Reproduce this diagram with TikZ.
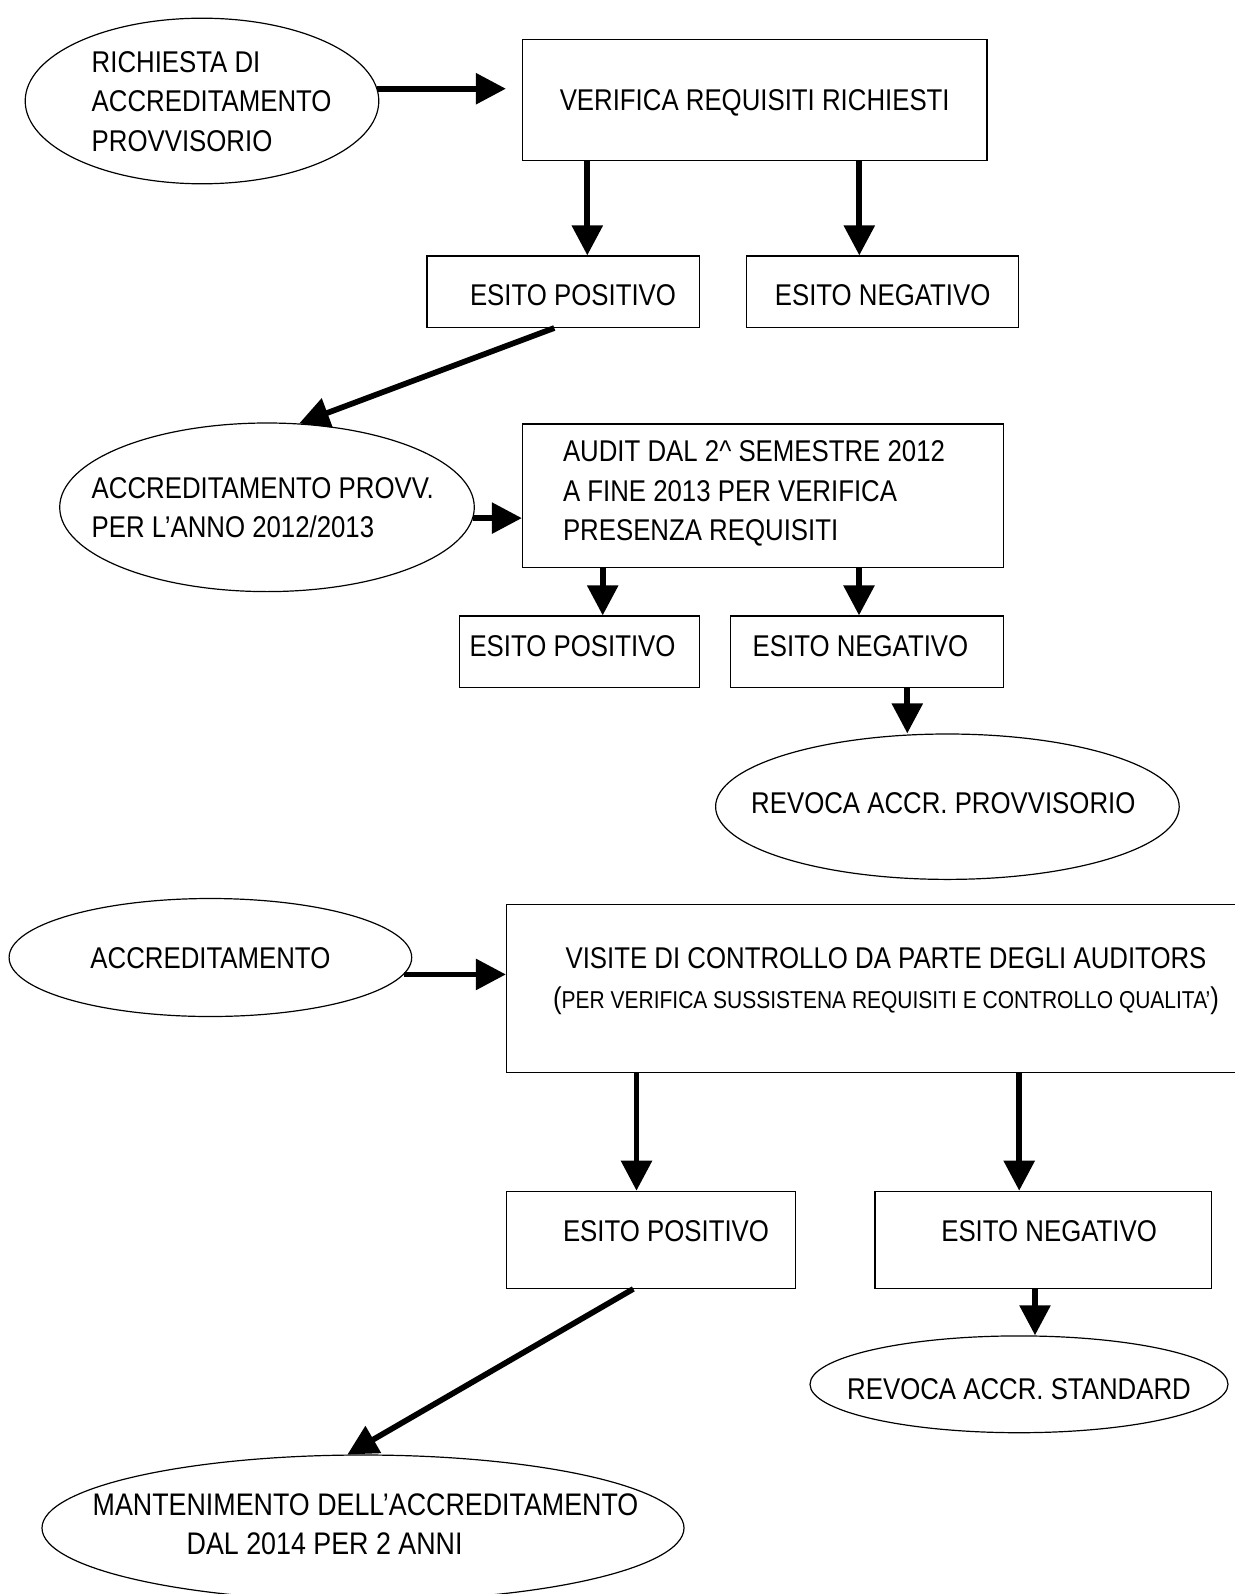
\documentclass[tikz,border=0pt]{standalone}
\usepackage{fontspec}
\setmainfont[FakeStretch=0.86]{Liberation Sans}
\usetikzlibrary{arrows.meta, shapes.geometric, calc}

\newcommand{\piccolo}[1]{{\fontsize{12.2}{19.8}\selectfont #1}}

\begin{document}
\begin{tikzpicture}[
  x=0.5pt, y=-0.5pt,
  >={Triangle[length=15pt, width=15pt]},
  font=\fontsize{15}{19.8}\selectfont,
  ovale/.style={draw, line width=0.6pt, ellipse, inner xsep=-30pt, inner ysep=0pt,
    text height=10.75pt},
  riquadro/.style={draw, line width=0.6pt, rectangle, inner sep=0pt,
    text height=10.75pt},
  arr/.style={->, line width=2.85pt},
]

% Background
\useasboundingbox (0,0) rectangle (1235,1594);
\fill[white] (0,0) rectangle (1235,1594);

% =============================================
% Accreditamento provvisorio
% =============================================
\node[ovale, minimum width=176.8pt, minimum height=82.8pt, text width=110.3pt,
  align=flush left]
  (richiesta) at (202,101) {RICHIESTA DI\\ACCREDITAMENTO\\PROVVISORIO};

\node[riquadro, minimum width=232.2pt, minimum height=60.5pt, text depth=0pt]
  (verifica) at (754.7,100.2) {VERIFICA REQUISITI RICHIESTI};

% Arrow richiesta -> verifica
\draw[arr, shorten >=8pt] (richiesta.4) -- (richiesta.4 -| verifica.west);

\node[riquadro, minimum width=136.2pt, minimum height=35.7pt, text width=93.1pt,
  align=flush left, text height=13.75pt, text depth=0pt]
  (pos1) at (563.1,291.7) {\mbox{ESITO POSITIVO}};
\node[riquadro, minimum width=135.9pt, minimum height=35.7pt,
  text height=13.75pt, text depth=0pt]
  (neg1) at (882.6,291.7) {ESITO NEGATIVO};

% Arrows verifica -> esiti
\coordinate (k1) at (587.3,0);
\coordinate (k2) at (859.3,0);
\draw[arr] (verifica.south -| k1) -- (pos1.north -| k1);
\draw[arr] (verifica.south -| k2) -- (neg1.north -| k2);

\node[ovale, minimum width=207.3pt, minimum height=84.3pt, text width=175.3pt,
  align=flush left, text depth=19.8pt]
  (provv) at (267,507.3) {\mbox{ACCREDITAMENTO PROVV.}\\PER L’ANNO 2012/2013};

% Arrow esito positivo -> accreditamento provvisorio
\coordinate (d1) at (554.3,0);
\draw[arr] (pos1.south -| d1) -- (provv.69);

% =============================================
% Audit
% =============================================
\node[riquadro, minimum width=240.4pt, minimum height=71.9pt, text width=199.9pt,
  align=flush left, text depth=45pt]
  (audit) at (762.9,495.9)
  {AUDIT DAL 2\textasciicircum{} SEMESTRE 2012\\A FINE 2013 PER VERIFICA\\PRESENZA REQUISITI};

% Arrow provv -> audit
\draw[arr] (provv.-3) -- (provv.-3 -| audit.west);

\node[riquadro, minimum width=119.9pt, minimum height=35.9pt, text width=109.9pt,
  align=flush left, text depth=5.7pt]
  (pos2) at (579.4,651.9) {\mbox{ESITO POSITIVO}};
\node[riquadro, minimum width=136.3pt, minimum height=35.9pt, text width=114.3pt,
  align=flush left, text depth=5.7pt]
  (neg2) at (867,651.9) {\mbox{ESITO NEGATIVO}};

% Arrows audit -> esiti
\coordinate (k3) at (602.7,0);
\coordinate (k4) at (859,0);
\draw[arr] (audit.south -| k3) -- (pos2.north -| k3);
\draw[arr] (audit.south -| k4) -- (neg2.north -| k4);

\node[ovale, minimum width=231.8pt, minimum height=72.7pt, text width=196.2pt,
  align=flush left, text depth=4pt]
  (revprovv) at (947.4,806.7) {\mbox{REVOCA ACCR. PROVVISORIO}};

% Arrow esito negativo -> revoca
\coordinate (k5) at (907.3,0);
\draw[arr] (neg2.south -| k5) -- (revprovv.north -| k5);

% =============================================
% Accreditamento standard
% =============================================
\node[ovale, minimum width=201.3pt, minimum height=59pt, text depth=0pt]
  (accr) at (210.4,957.5) {ACCREDITAMENTO};

\node[riquadro, minimum width=379.5pt, minimum height=84.2pt, align=center,
  text height=19.8pt, text depth=0pt]
  (visite) at (886,988.5)
  {VISITE DI CONTROLLO DA PARTE DEGLI AUDITORS\\
   (\piccolo{PER VERIFICA SUSSISTENA REQUISITI E CONTROLLO QUALITA’})};

% Arrow accr -> visite
\draw[arr] (accr.-5) -- (accr.-5 -| visite.west);

\node[riquadro, minimum width=144.3pt, minimum height=48.5pt, text width=87.8pt,
  align=flush left, text depth=8.7pt]
  (pos3) at (650.8,1239.8) {\mbox{ESITO POSITIVO}};
\node[riquadro, minimum width=168.4pt, minimum height=48.5pt, text width=102.1pt,
  align=flush left, text depth=8.7pt]
  (neg3) at (1043.4,1239.8) {\mbox{ESITO NEGATIVO}};

% Arrows visite -> esiti
\coordinate (k6) at (636.5,0);
\coordinate (k7) at (1019.2,0);
\draw[arr] (visite.south -| k6) -- (pos3.north -| k6);
\draw[arr] (visite.south -| k7) -- (neg3.north -| k7);

\node[ovale, minimum width=209pt, minimum height=48.4pt, text height=14.75pt,
  text depth=0pt]
  (revstd) at (1019,1384.3) {REVOCA ACCR. STANDARD};

% Arrow esito negativo -> revoca
\coordinate (k8) at (1035,0);
\draw[arr] (neg3.south -| k8) -- (revstd.north -| k8);

\node[ovale, minimum width=321pt, minimum height=73pt, text width=270.3pt,
  align=flush left, text depth=23.75pt, font=\fontsize{15.6}{19.8}\selectfont]
  (mant) at (363,1528)
  {\mbox{MANTENIMENTO DELL’ACCREDITAMENTO}\\\hspace*{47pt}DAL 2014 PER 2 ANNI};

% Arrow esito positivo -> mantenimento
\coordinate (d2) at (633.3,0);
\draw[arr] (pos3.south -| d2) -- (mant.102);

\end{tikzpicture}
\end{document}
